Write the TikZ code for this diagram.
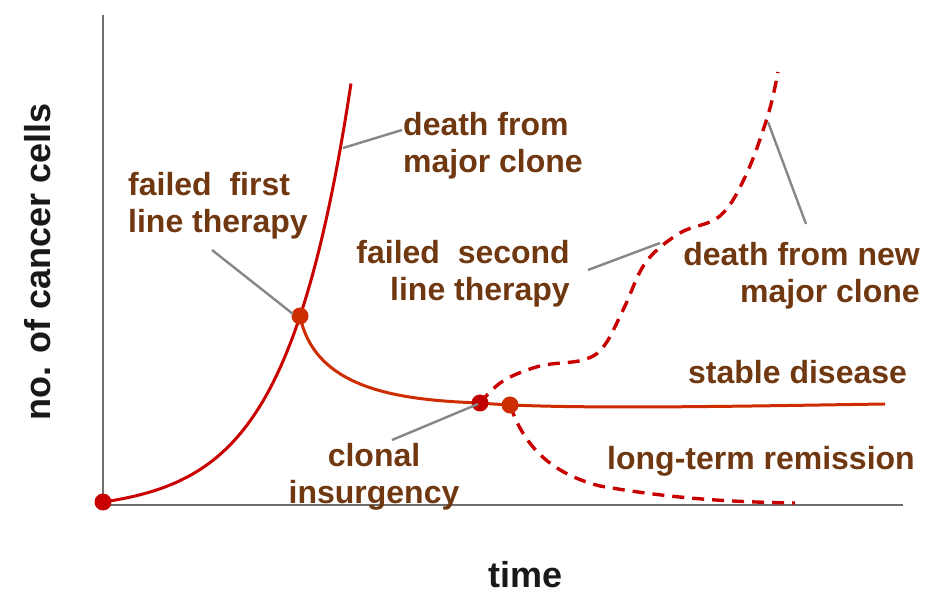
\documentclass[tikz,border=0pt]{standalone}
\usepackage{fontspec}
\setmainfont{Liberation Sans}
\definecolor{curvered}{RGB}{200,0,0}
\definecolor{stablered}{RGB}{205,45,0}
\definecolor{dotdark}{RGB}{192,0,0}
\definecolor{labelbrown}{RGB}{112,56,16}
\definecolor{axisgray}{RGB}{110,110,110}
\definecolor{leadergray}{RGB}{135,135,135}

\begin{document}
\begin{tikzpicture}[x=1pt,y=-1pt,
        lbl/.style={font=\bfseries\fontsize{32}{37}\selectfont, text=labelbrown, inner sep=0pt},
        axlbl/.style={font=\bfseries\fontsize{36}{40}\selectfont, text=black!90, inner sep=0pt},
        leader/.style={draw=leadergray, line width=2.4pt},
        dot/.style={circle, fill=#1, minimum size=17pt, inner sep=0pt},
        curve/.style={draw=curvered, line width=3pt},
        dashcurve/.style={draw=curvered, line width=3.4pt, dash pattern=on 12pt off 8pt}]
    \useasboundingbox (0,0) rectangle (935,593);

    % axes
    \coordinate (top) at (103,15);
    \coordinate (orig) at (103,505);
    \coordinate (right) at (903,505);
    \draw[axisgray, line width=2.4pt] (top) -- (orig) -- (right);
    \node[axlbl, rotate=90, anchor=base] (ylab) at (50,262) {no. of cancer cells};
    \node[axlbl, anchor=base] (xlab) at (526,587) {time};

    % points on the curves
    \coordinate (start) at (103,502);
    \coordinate (fail1) at (300,316);
    \coordinate (insurg) at (480,403);
    \coordinate (remit) at (510,405);
    \coordinate (stableend) at (885,404);
    \coordinate (remitend) at (795,503);
    \coordinate (deathend) at (778,72);

    % curves
    \draw[curve] plot[domain=103:351, samples=80] (\x, {502 - 9.4*(exp(0.0154*(\x-103))-1)});
    \draw[curve, draw=stablered] (fail1) .. controls (315,390) and (400,400) .. (insurg)
        .. controls (560,410) and (750,406) .. (stableend);
    \draw[dashcurve] plot[smooth, tension=0.6] coordinates {(insurg) (503,381) (540,366) (583,360)
        (604,346) (624,308) (646,262) (680,233) (720,216) (746,175) (768,115) (deathend)};
    \draw[dashcurve] (remit) .. controls (522,440) and (545,472) .. (600,486)
        .. controls (680,500) and (740,502) .. (remitend);

    \node[dot=curvered] (startdot) at (start) {};
    \node[dot=stablered] (fail1dot) at (fail1) {};
    \node[dot=dotdark] (insurgdot) at (insurg) {};
    \node[dot=stablered] (remitdot) at (remit) {};

    % labels
    \node[lbl, align=left, anchor=north west] (death1) at (403,112) {death from\\major clone};
    \node[lbl, align=left, anchor=north west] (failfirst) at (128,172) {failed\ \ first\\line therapy};
    \node[lbl, align=right, anchor=north east] (failsecond) at (570,240) {failed\ \ second\\line therapy};
    \node[lbl, align=right, anchor=north east] (death2) at (920,242) {death from new\\major clone};
    \node[lbl, anchor=base west] (stable) at (688,384) {stable disease};
    \node[lbl, align=center, anchor=north] (clonal) at (374,443) {clonal\\insurgency};
    \node[lbl, anchor=base west] (longterm) at (607,470) {long-term remission};

    % leader lines
    \coordinate (d1a) at (343,148);
    \coordinate (d1b) at (402,130);
    \coordinate (f1a) at (212,250);
    \coordinate (f1b) at (293,314);
    \coordinate (f2a) at (588,270);
    \coordinate (f2b) at (660,243);
    \coordinate (d2a) at (768,122);
    \coordinate (d2b) at (806,224);
    \coordinate (cla) at (392,440);
    \coordinate (clb) at (478,404);
    \draw[leader] (d1a) -- (d1b);
    \draw[leader] (f1a) -- (f1b);
    \draw[leader] (f2a) -- (f2b);
    \draw[leader] (d2a) -- (d2b);
    \draw[leader] (cla) -- (clb);
\end{tikzpicture}
\end{document}
